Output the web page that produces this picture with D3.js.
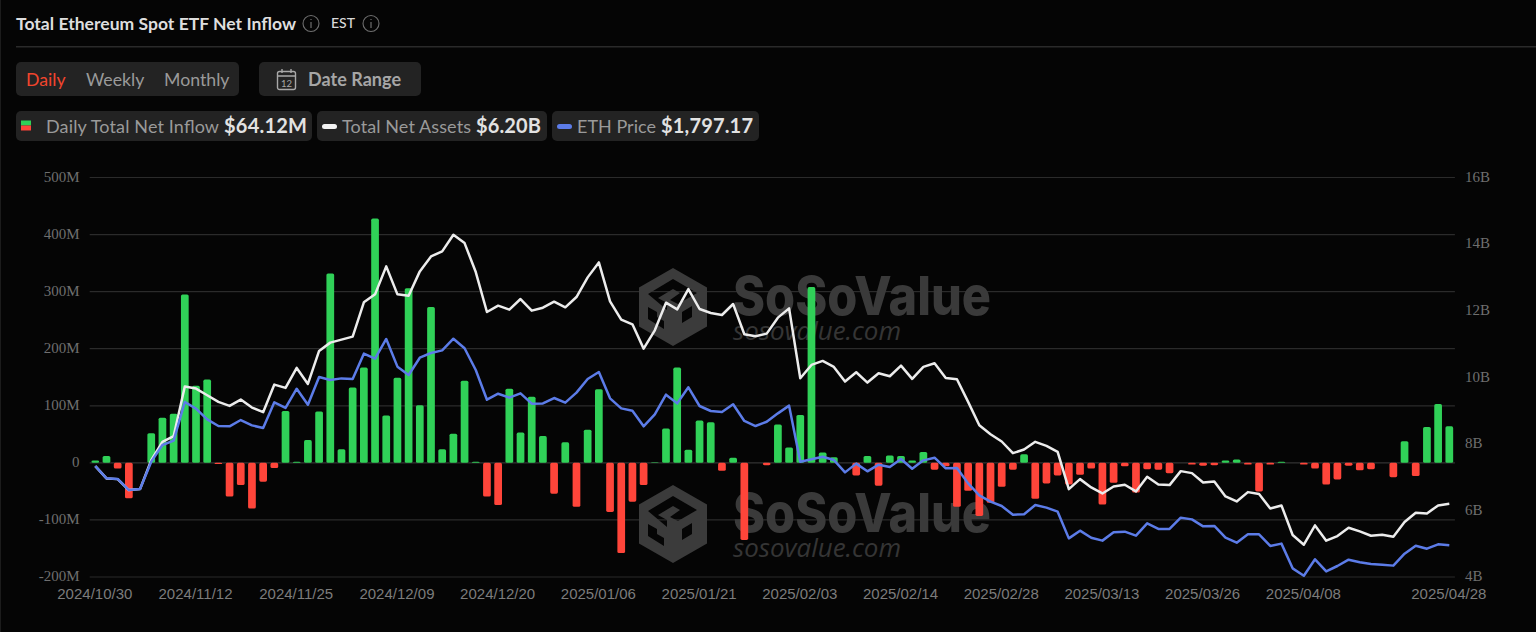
<!DOCTYPE html>
<html>
<head>
<meta charset="utf-8">
<title>Total Ethereum Spot ETF Net Inflow</title>
<script src="https://cdn.jsdelivr.net/npm/d3@7"></script>
<style>
  html, body { margin: 0; padding: 0; background: #050505; overflow: hidden; }
  svg { display: block; font-family: Lato, sans-serif; }
</style>
</head>
<body>
<svg id="chart" width="1536" height="632"></svg>
<script>
// trading days on the x axis
const dates = [
  '2024/10/30','2024/10/31','2024/11/01','2024/11/04','2024/11/05','2024/11/06','2024/11/07','2024/11/08','2024/11/11','2024/11/12',
  '2024/11/13','2024/11/14','2024/11/15','2024/11/18','2024/11/19','2024/11/20','2024/11/21','2024/11/22','2024/11/25','2024/11/26',
  '2024/11/27','2024/11/29','2024/12/02','2024/12/03','2024/12/04','2024/12/05','2024/12/06','2024/12/09','2024/12/10','2024/12/11',
  '2024/12/12','2024/12/13','2024/12/16','2024/12/17','2024/12/18','2024/12/19','2024/12/20','2024/12/23','2024/12/24','2024/12/26',
  '2024/12/27','2024/12/30','2024/12/31','2025/01/02','2025/01/03','2025/01/06','2025/01/07','2025/01/08','2025/01/10','2025/01/13',
  '2025/01/14','2025/01/15','2025/01/16','2025/01/17','2025/01/21','2025/01/22','2025/01/23','2025/01/24','2025/01/27','2025/01/28',
  '2025/01/29','2025/01/30','2025/01/31','2025/02/03','2025/02/04','2025/02/05','2025/02/06','2025/02/07','2025/02/10','2025/02/11',
  '2025/02/12','2025/02/13','2025/02/14','2025/02/18','2025/02/19','2025/02/20','2025/02/21','2025/02/24','2025/02/25','2025/02/26',
  '2025/02/27','2025/02/28','2025/03/03','2025/03/04','2025/03/05','2025/03/06','2025/03/07','2025/03/10','2025/03/11','2025/03/12',
  '2025/03/13','2025/03/14','2025/03/17','2025/03/18','2025/03/19','2025/03/20','2025/03/21','2025/03/24','2025/03/25','2025/03/26',
  '2025/03/27','2025/03/28','2025/03/31','2025/04/01','2025/04/02','2025/04/03','2025/04/04','2025/04/07','2025/04/08','2025/04/09',
  '2025/04/10','2025/04/11','2025/04/14','2025/04/15','2025/04/16','2025/04/17','2025/04/21','2025/04/22','2025/04/23','2025/04/24',
  '2025/04/25','2025/04/28'
];

// daily total net inflow, $M
const netInflow = [
  4, 12, -10, -62, 0, 52, 79, 86, 295, 135, 146, -2, -59, -39, -80, -33, -9, 91, 2, 40,
  90, 332, 24, 132, 167, 428, 83, 149, 306, 101, 273, 24, 51, 144, 2, -59, -74, 130, 53, 116,
  47, -54, 36, -77, 58, 129, -86, -158, -68, -39, 1, 60, 167, 23, 74, 71, -14, 9, -135, 0,
  -4, 67, 27, 84, 308, 18, 10, 0, -22, 12, -40, 13, 12, 4, 19, -12, -6, -77, -49, -93,
  -70, -42, -12, 15, -63, -36, -22, -38, -21, -10, -73, -35, -6, -52, -11, -12, -18, 0, -3, -5,
  -4, 4, 6, -3, -50, -3, 2, 0, -3, -10, -38, -29, -5, -13, -11, 0, -25, 38, -23, 63,
  103, 64
];

// total net assets, $B
const netAssets = [
  7.33, 6.96, 6.94, 6.61, 6.64, 7.51, 8.06, 8.23, 9.72, 9.66, 9.46, 9.26, 9.14, 9.33, 9.09, 8.95, 9.78, 9.68, 10.28, 9.80,
  10.79, 11.04, 11.13, 11.22, 12.25, 12.49, 13.33, 12.49, 12.45, 13.18, 13.63, 13.78, 14.28, 14.03, 13.16, 11.96, 12.15, 12.03, 12.35, 12.00,
  12.09, 12.27, 12.10, 12.41, 13.00, 13.45, 12.28, 11.73, 11.59, 10.86, 11.41, 12.24, 12.04, 12.65, 12.05, 11.93, 11.87, 12.20, 11.29, 11.23,
  11.31, 11.79, 12.07, 9.97, 10.37, 10.49, 10.31, 9.87, 10.15, 9.84, 10.12, 10.03, 10.35, 9.95, 10.31, 10.42, 9.98, 9.94, 9.26, 8.56,
  8.29, 8.07, 7.72, 7.83, 8.06, 7.94, 7.76, 6.64, 6.94, 6.69, 6.51, 6.72, 6.77, 6.57, 7.01, 6.78, 6.76, 7.18, 7.12, 6.84,
  6.87, 6.42, 6.27, 6.55, 6.49, 6.06, 6.15, 5.26, 4.97, 5.55, 5.09, 5.23, 5.48, 5.37, 5.24, 5.27, 5.21, 5.65, 5.93, 5.91,
  6.15, 6.20
];

// ETH price, $
const ethPrice = [
  2641, 2510, 2503, 2385, 2396, 2687, 2864, 2910, 3322, 3251, 3137, 3066, 3063, 3130, 3073, 3045, 3318, 3258, 3463, 3293,
  3588, 3556, 3573, 3566, 3836, 3783, 3992, 3698, 3609, 3793, 3843, 3871, 3995, 3893, 3662, 3346, 3410, 3368, 3414, 3304,
  3307, 3364, 3315, 3421, 3566, 3641, 3361, 3254, 3229, 3063, 3190, 3400, 3307, 3478, 3279, 3226, 3215, 3297, 3120, 3066,
  3112, 3201, 3283, 2687, 2712, 2740, 2705, 2573, 2666, 2584, 2655, 2630, 2715, 2612, 2701, 2729, 2616, 2620, 2456, 2329,
  2261, 2215, 2123, 2127, 2226, 2198, 2155, 1871, 1953, 1878, 1847, 1935, 1942, 1900, 2031, 1971, 1971, 2091, 2073, 1999,
  2003, 1878, 1825, 1914, 1914, 1790, 1815, 1552, 1474, 1648, 1520, 1577, 1644, 1616, 1598, 1591, 1581, 1708, 1793, 1761,
  1808, 1797
];

const xTicks = ['2024/10/30','2024/11/12','2024/11/25','2024/12/09','2024/12/20','2025/01/06','2025/01/21','2025/02/03','2025/02/14','2025/02/28','2025/03/13','2025/03/26','2025/04/08','2025/04/28'];
const leftTicks = [-200, -100, 0, 100, 200, 300, 400, 500];
const rightTicks = [4, 6, 8, 10, 12, 14, 16];
const tabs = ['Daily', 'Weekly', 'Monthly'];

const svg = d3.select('#chart');

const x = d3.scaleBand().domain(dates).range([89.7, 1454.9]).paddingInner(0.31).paddingOuter(0.155);
const yLeft = d3.scaleLinear().domain([-200, 500]).range([577, 177.5]);
const yRight = d3.scaleLinear().domain([4, 16]).range([577, 177.5]);
const yPrice = d3.scaleLinear().domain([1460, 5710]).range([577, 177.5]); // hidden axis

function drawHeader() {
  svg.append('rect').attr('x', 0).attr('y', 0).attr('width', 1).attr('height', 632).attr('fill', '#1c1c1c');
  svg.append('rect').attr('x', 16).attr('y', 46).attr('width', 1520).attr('height', 1.5).attr('fill', '#2a2a2a');

  svg.append('text').attr('x', 16).attr('y', 29.5).attr('font-size', 17.5).attr('font-weight', 700)
    .attr('textLength', 280).attr('lengthAdjust', 'spacingAndGlyphs')
    .attr('fill', '#dedede').text('Total Ethereum Spot ETF Net Inflow');
  svg.append('text').attr('x', 331).attr('y', 28).attr('font-size', 14).attr('font-weight', 500)
    .attr('fill', '#d8d8d8').text('EST');
  [311, 371].forEach(cx => {
    const g = svg.append('g').attr('transform', `translate(${cx},23.5)`).attr('stroke', '#6e6e6e').attr('fill', 'none');
    g.append('circle').attr('r', 8).attr('stroke-width', 1.1);
    g.append('path').attr('d', 'M0,-1.5V4.5M0,-4.5V-3.4').attr('stroke-width', 1.2);
  });

  // period tabs
  svg.append('rect').attr('x', 16).attr('y', 62).attr('width', 223).attr('height', 34).attr('rx', 5).attr('fill', '#232323');
  const tabX = [26, 86, 164];
  svg.selectAll('.tab').data(tabs).join('text').attr('class', 'tab')
    .attr('x', (d, i) => tabX[i]).attr('y', 86).attr('font-size', 17.7)
    .attr('fill', (d, i) => i === 0 ? '#f2452d' : '#9a9a9a').text(d => d);

  // date range button
  svg.append('rect').attr('x', 259).attr('y', 62).attr('width', 162).attr('height', 34).attr('rx', 5).attr('fill', '#232323');
  const cal = svg.append('g').attr('transform', 'translate(277,69)').attr('stroke', '#a8a8a8').attr('fill', 'none').attr('stroke-width', 1.4);
  cal.append('rect').attr('x', 0.5).attr('y', 2.5).attr('width', 18).attr('height', 18).attr('rx', 2);
  cal.append('path').attr('d', 'M0.5,7H18.5M5,0V4M14,0V4');
  cal.append('text').attr('x', 9.5).attr('y', 17.5).attr('text-anchor', 'middle').attr('font-size', 9.5)
    .attr('stroke', 'none').attr('fill', '#a8a8a8').text('12');
  svg.append('text').attr('x', 308).attr('y', 86).attr('font-size', 18).attr('font-weight', 700)
    .attr('textLength', 93).attr('fill', '#a6a6a6').text('Date Range');

  // legend chips
  const chips = [
    {x: 16, w: 296, label: 'Daily Total Net Inflow', lx: 46, lw: 173, value: '$64.12M', vx: 224, vw: 83},
    {x: 317, w: 230, label: 'Total Net Assets', lx: 342, lw: 129, value: '$6.20B', vx: 476, vw: 65},
    {x: 552, w: 207, label: 'ETH Price', lx: 577, lw: 79, value: '$1,797.17', vx: 661, vw: 92}
  ];
  chips.forEach(c => {
    svg.append('rect').attr('x', c.x).attr('y', 111).attr('width', c.w).attr('height', 30).attr('rx', 5).attr('fill', '#232323');
    svg.append('text').attr('x', c.lx).attr('y', 132.5).attr('font-size', 18).attr('textLength', c.lw).attr('fill', '#9a9a9a').text(c.label);
    svg.append('text').attr('x', c.vx).attr('y', 133).attr('font-size', 20).attr('font-weight', 700)
      .attr('textLength', c.vw).attr('fill', '#e2e2e2').text(c.value);
  });
  svg.append('rect').attr('x', 21).attr('y', 120.5).attr('width', 10).attr('height', 5).attr('fill', '#30d158');
  svg.append('rect').attr('x', 21).attr('y', 125.5).attr('width', 10).attr('height', 5).attr('fill', '#ff453a');
  svg.append('rect').attr('x', 322).attr('y', 124).attr('width', 15).attr('height', 5).attr('rx', 2.5).attr('fill', '#f2f2f2');
  svg.append('rect').attr('x', 557).attr('y', 124).attr('width', 15).attr('height', 5).attr('rx', 2.5).attr('fill', '#5c7ce8');
}

function drawWatermark(dy) {
  const g = svg.append('g').attr('transform', `translate(0,${dy})`);
  // hexagon with the cube cut out of it
  g.append('path').attr('transform', 'translate(673,307)').attr('fill', '#3b3b3b').attr('fill-rule', 'evenodd')
    .attr('d', 'M0,-39L34,-19.5V19.5L0,39L-34,19.5V-19.5Z' +
      'M-25,-13L0,-28L24,-14L5,-3L-3,-7L7,-14L0,-18L-15,-9L-6,-4V3Z' +
      'M9,5L19,-1V10L9,16Z' +
      'M-25,0L-16,5V10L-9,14V22L-25,12Z');
  g.append('text').attr('x', 733).attr('y', 315).attr('font-family', 'Inter').attr('font-weight', 800)
    .attr('font-size', 54).attr('textLength', 258).attr('lengthAdjust', 'spacingAndGlyphs')
    .attr('fill', '#3a3a3a').text('SoSoValue');
  g.append('text').attr('x', 733).attr('y', 340).attr('font-family', 'Open Sans').attr('font-style', 'italic')
    .attr('font-size', 25).attr('textLength', 168).attr('lengthAdjust', 'spacingAndGlyphs')
    .attr('fill', '#353535').text('sosovalue.com');
}

drawHeader();

// gridlines
svg.append('g').selectAll('line').data(leftTicks).join('line')
  .attr('x1', 89.7).attr('x2', 1454.9)
  .attr('y1', d => yLeft(d)).attr('y2', d => yLeft(d))
  .attr('stroke', d => d === 0 ? '#333' : '#2b2b2b').attr('stroke-width', 1.2);

drawWatermark(0);
drawWatermark(217);

// axes
const axisLeft = d3.axisLeft(yLeft).tickValues(leftTicks).tickSize(0).tickPadding(0)
  .tickFormat(d => d === 0 ? '0' : d + 'M');
const axisRight = d3.axisRight(yRight).tickValues(rightTicks).tickSize(0).tickPadding(0)
  .tickFormat(d => d + 'B');
const axisBottom = d3.axisBottom(x).tickValues(xTicks).tickSize(0).tickPadding(0);

const gLeft = svg.append('g').attr('transform', 'translate(79.5,-1)').call(axisLeft);
const gRight = svg.append('g').attr('transform', 'translate(1465,-1)').call(axisRight);
const gBottom = svg.append('g').attr('transform', 'translate(-0.5,588)').call(axisBottom);
[gLeft, gRight, gBottom].forEach(g => g.select('.domain').remove());
gLeft.selectAll('text').attr('font-family', 'Liberation Serif').attr('font-size', 15).attr('fill', '#6f6f6f');
gRight.selectAll('text').attr('font-family', 'Liberation Serif').attr('font-size', 15).attr('fill', '#6f6f6f');
gBottom.selectAll('text').attr('font-family', 'Liberation Sans').attr('font-size', 15).attr('fill', '#7c7c7c');

// bars
svg.append('g').selectAll('rect').data(dates).join('rect')
  .attr('x', d => x(d))
  .attr('width', x.bandwidth())
  .attr('y', (d, i) => yLeft(Math.max(netInflow[i], 0)))
  .attr('height', (d, i) => Math.abs(yLeft(netInflow[i]) - yLeft(0)))
  .attr('rx', 1.6)
  .attr('fill', (d, i) => netInflow[i] >= 0 ? '#30d158' : '#ff453a');

// lines
const lineOf = (values, scale) => d3.line()
  .x((d, i) => x(dates[i]) + x.bandwidth() / 2)
  .y(d => scale(d))(values);

svg.append('path').attr('d', lineOf(netAssets, yRight))
  .attr('fill', 'none').attr('stroke', '#ececec').attr('stroke-width', 2.5).attr('stroke-linejoin', 'round');
svg.append('path').attr('d', lineOf(ethPrice, yPrice))
  .attr('fill', 'none').attr('stroke', '#5c7ce8').attr('stroke-width', 2.5).attr('stroke-linejoin', 'round');
</script>
</body>
</html>
